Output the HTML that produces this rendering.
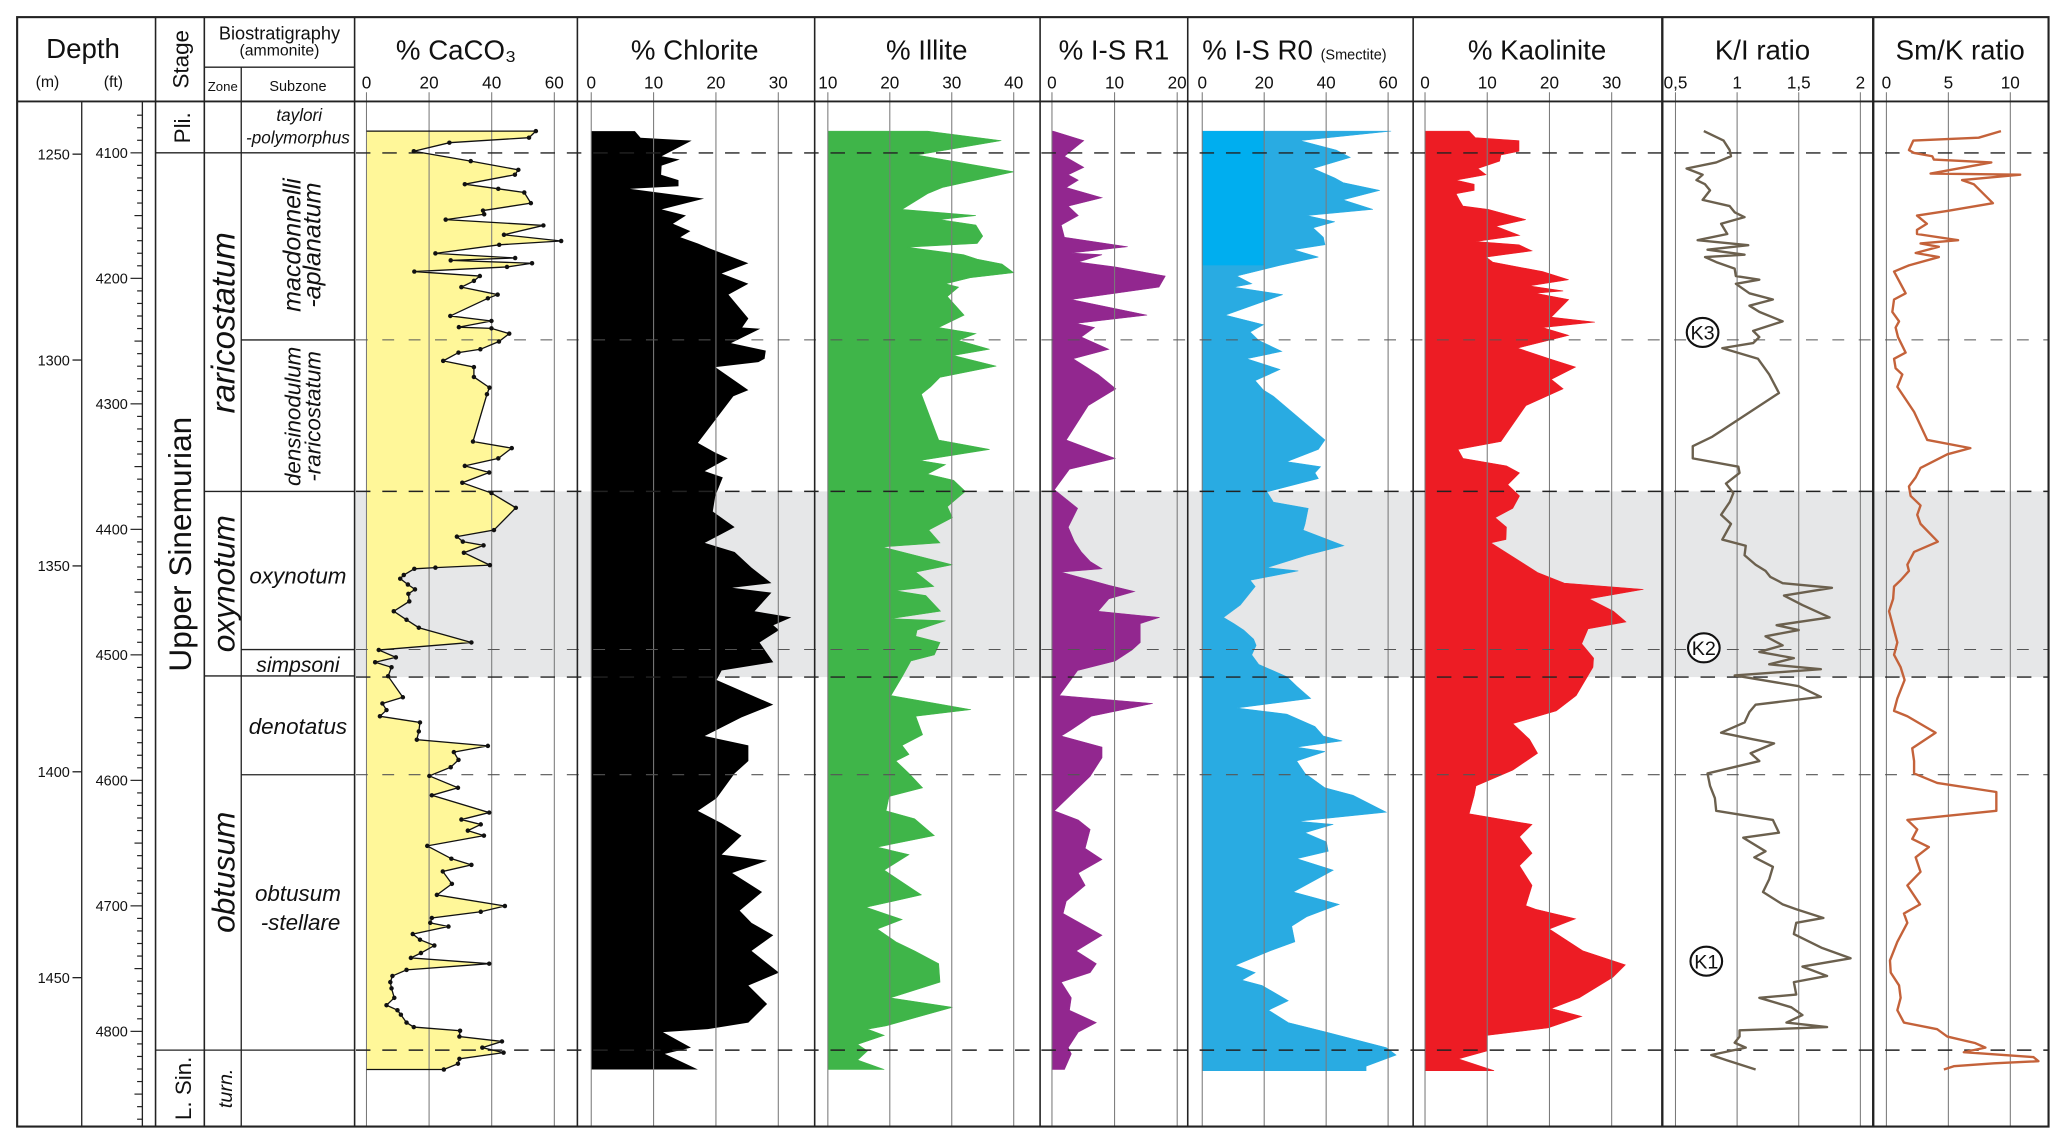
<!DOCTYPE html>
<html><head><meta charset="utf-8"><style>
html,body{margin:0;padding:0;background:#fff}
svg{display:block}
text{font-family:"Liberation Sans",sans-serif;fill:#111}
</style></head><body>
<svg id="chart" xmlns="http://www.w3.org/2000/svg" width="2067" height="1145" viewBox="0 0 1568 869" preserveAspectRatio="none">
<g id="bg"></g>
<g id="fills"></g>
<g id="grid"></g>
<g id="dashes"></g>
<g id="lines"></g>
<g id="frame" stroke="#222" fill="none">
 <rect x="13" y="13" width="1541" height="842" stroke-width="1.6"/>
 <line x1="13" y1="77" x2="1554" y2="77" stroke-width="1.4"/>
 <line x1="62" y1="77" x2="62" y2="855" stroke-width="1"/>
 <line x1="108" y1="77" x2="108" y2="855" stroke-width="1"/>
 <line x1="118" y1="13" x2="118" y2="855" stroke-width="1.2"/>
 <line x1="155" y1="13" x2="155" y2="855" stroke-width="1.2"/>
 <line x1="183" y1="51" x2="183" y2="855" stroke-width="1"/>
 <line x1="155" y1="51" x2="269" y2="51" stroke-width="1"/>
 <line x1="269" y1="13" x2="269" y2="855" stroke-width="1.2"/>
 <line x1="438" y1="13" x2="438" y2="855" stroke-width="1.2"/>
 <line x1="618" y1="13" x2="618" y2="855" stroke-width="1.2"/>
 <line x1="789" y1="13" x2="789" y2="855" stroke-width="1.2"/>
 <line x1="901" y1="13" x2="901" y2="855" stroke-width="1.2"/>
 <line x1="1072" y1="13" x2="1072" y2="855" stroke-width="1.2"/>
 <line x1="1261" y1="13" x2="1261" y2="855" stroke-width="1.8"/>
 <line x1="1421" y1="13" x2="1421" y2="855" stroke-width="1.8"/>
 <line x1="118" y1="116" x2="269" y2="116" stroke-width="1"/>
 <line x1="118" y1="797" x2="269" y2="797" stroke-width="1"/>
 <line x1="155" y1="373" x2="269" y2="373" stroke-width="1"/>
 <line x1="155" y1="513" x2="269" y2="513" stroke-width="1"/>
 <line x1="183" y1="258" x2="269" y2="258" stroke-width="1"/>
 <line x1="183" y1="493" x2="269" y2="493" stroke-width="1"/>
 <line x1="183" y1="588" x2="269" y2="588" stroke-width="1"/>
</g>
<g id="labels">
 <text x="63" y="44" font-size="21" text-anchor="middle">Depth</text>
 <text x="36" y="66" font-size="12" text-anchor="middle">(m)</text>
 <text x="86" y="66" font-size="12" text-anchor="middle">(ft)</text>
 <text transform="translate(143,45) rotate(-90)" font-size="17" text-anchor="middle">Stage</text>
 <text x="212" y="30" font-size="14" text-anchor="middle" textLength="92" lengthAdjust="spacingAndGlyphs">Biostratigraphy</text>
 <text x="212" y="42" font-size="12" text-anchor="middle">(ammonite)</text>
 <text x="169" y="69" font-size="10" text-anchor="middle">Zone</text>
 <text x="226" y="69" font-size="11" text-anchor="middle">Subzone</text>
 <text x="346" y="45" font-size="21" text-anchor="middle">% CaCO₃</text>
 <text x="527" y="45" font-size="21" text-anchor="middle">% Chlorite</text>
 <text x="703" y="45" font-size="21" text-anchor="middle">% Illite</text>
 <text x="845" y="45" font-size="21" text-anchor="middle">% I-S R1</text>
 <text x="912" y="45" font-size="21">% I-S R0 <tspan font-size="11">(Smectite)</tspan></text>
 <text x="1166" y="45" font-size="21" text-anchor="middle">% Kaolinite</text>
 <text x="1337" y="45" font-size="21" text-anchor="middle">K/I ratio</text>
 <text x="1487" y="45" font-size="21" text-anchor="middle">Sm/K ratio</text>
 <text transform="translate(144,97) rotate(-90)" font-size="17" text-anchor="middle">Pli.</text>
 <text transform="translate(145,413) rotate(-90)" font-size="24" text-anchor="middle">Upper Sinemurian</text>
 <text transform="translate(145,826) rotate(-90)" font-size="17" text-anchor="middle">L. Sin.</text>
 <text transform="translate(178,245) rotate(-90)" font-size="25" font-style="italic" text-anchor="middle">raricostatum</text>
 <text transform="translate(178,443) rotate(-90)" font-size="24" font-style="italic" text-anchor="middle">oxynotum</text>
 <text transform="translate(178,662) rotate(-90)" font-size="24" font-style="italic" text-anchor="middle">obtusum</text>
 <text transform="translate(176,826) rotate(-90)" font-size="15" font-style="italic" text-anchor="middle">turn.</text>
 <text x="227" y="92" font-size="13" font-style="italic" text-anchor="middle">taylori</text>
 <text x="226" y="109" font-size="13" font-style="italic" text-anchor="middle">-polymorphus</text>
 <text transform="translate(228,186) rotate(-90)" font-size="19" font-style="italic" text-anchor="middle">macdonnelli</text>
 <text transform="translate(243,186) rotate(-90)" font-size="19" font-style="italic" text-anchor="middle">-aplanatum</text>
 <text transform="translate(228,316) rotate(-90)" font-size="17" font-style="italic" text-anchor="middle">densinodulum</text>
 <text transform="translate(243,316) rotate(-90)" font-size="17" font-style="italic" text-anchor="middle">-raricostatum</text>
 <text x="226" y="443" font-size="17" font-style="italic" text-anchor="middle">oxynotum</text>
 <text x="226" y="510" font-size="16" font-style="italic" text-anchor="middle">simpsoni</text>
 <text x="226" y="557" font-size="17" font-style="italic" text-anchor="middle">denotatus</text>
 <text x="226" y="684" font-size="17" font-style="italic" text-anchor="middle">obtusum</text>
 <text x="228" y="706" font-size="17" font-style="italic" text-anchor="middle">-stellare</text>
</g>
<g id="ruler"></g>
<g id="kmarks"></g>
</svg>
<script>
// ---- data (depth in metres, values in column units) ----
const mDepthTicks = [1250, 1300, 1350, 1400, 1450];
const ftDepthTicks = [4100, 4200, 4300, 4400, 4500, 4600, 4700, 4800];
const heavyBoundaries = [1249.7, 1331.9, 1377.0, 1467.6];
const lightBoundaries = [1295.1, 1370.3, 1400.7];
const greyBand = [1331.9, 1377.0];
const kEventNames = ["K3", "K2", "K1"];
const kEventDepths = [1293.3, 1369.9, 1446.0];
const kEventRatio = [0.72, 0.73, 0.75];

const caco3Ticks = [0, 20, 40, 60];
const chloriteTicks = [0, 10, 20, 30];
const illiteTicks = [10, 20, 30, 40];
const isr1Ticks = [0, 10, 20];
const isr0Ticks = [0, 20, 40, 60];
const kaolTicks = [0, 10, 20, 30];
const kiTicks = [0.5, 1, 1.5, 2];
const kiTickLabels = ["0,5", "1", "1,5", "2"];
const smkTicks = [0, 5, 10];

const caco3Depth = [1244.4,1246.0,1247.2,1249.3,1251.7,1253.8,1255.0,1257.3,1258.4,1259.3,1261.9,1263.7,1264.6,1265.9,1267.3,1269.6,1271.1,1272.0,1274.1,1275.2,1275.8,1276.5,1277.4,1278.5,1279.6,1280.8,1282.3,1284.1,1285.0,1289.3,1290.5,1292.0,1292.3,1293.6,1295.5,1297.4,1298.2,1300.2,1301.7,1304.1,1306.7,1308.3,1319.8,1321.4,1323.9,1325.7,1327.3,1329.8,1332.3,1335.9,1341.3,1342.9,1344.1,1345.0,1346.8,1349.8,1350.4,1350.7,1352.2,1353.1,1354.5,1355.7,1356.8,1358.6,1361.0,1363.1,1365.0,1368.6,1370.4,1372.2,1373.4,1374.6,1376.8,1381.9,1383.4,1385.0,1386.5,1388.0,1390.2,1392.2,1393.7,1395.2,1397.1,1398.9,1401.0,1403.9,1405.7,1409.9,1411.6,1412.8,1414.3,1415.5,1418.0,1421.1,1422.6,1424.2,1427.2,1429.9,1432.6,1434.0,1435.5,1436.7,1437.6,1439.4,1440.8,1442.2,1444.0,1445.2,1446.6,1448.1,1449.6,1451.1,1452.6,1454.9,1456.7,1457.9,1459.0,1460.9,1462.0,1462.9,1464.3,1465.5,1467.0,1468.2,1469.7,1470.9,1472.3];
const caco3Val = [54.1,51.9,26.5,15.1,33.3,48.5,47.4,31.4,42.1,50.4,52.5,37.2,37.6,25.3,56.5,43.9,62.2,42.4,22.0,47.5,26.9,52.9,44.9,15.3,36.2,34.3,30.3,41.9,38.8,26.8,39.9,29.5,39.9,45.6,42.3,36.4,29.4,24.5,34.3,34.3,39.3,38.5,34.0,46.4,42.1,31.4,39.2,30.6,39.9,47.7,40.7,28.9,30.8,37.4,31.1,39.4,22.0,15.3,11.9,10.8,13.2,15.5,13.4,13.7,8.7,12.8,16.7,33.5,3.9,9.4,2.8,8.0,6.9,11.6,5.1,6.4,4.3,17.1,16.7,16.1,38.8,27.9,29.4,26.9,20.1,29.2,20.9,39.2,30.3,36.5,32.4,37.5,19.4,27.1,33.5,24.4,27.3,22.5,44.2,36.5,20.9,20.4,26.2,14.8,17.1,21.7,17.4,14.2,39.2,12.8,8.3,7.6,8.0,8.9,6.4,9.9,11.0,12.8,15.1,29.9,29.7,43.3,37.0,43.8,29.7,29.2,24.7];

const chloriteDepth = [1244.4,1246.0,1246.7,1250.5,1251.3,1252.8,1255.0,1256.3,1257.8,1258.4,1260.8,1263.4,1264.9,1266.9,1268.7,1270.2,1271.7,1272.9,1276.5,1279.0,1281.5,1284.1,1289.9,1292.1,1292.4,1295.9,1297.7,1299.7,1300.5,1301.7,1307.3,1308.8,1320.1,1322.4,1323.9,1327.0,1328.5,1333.0,1336.8,1340.6,1344.4,1346.6,1350.4,1354.2,1355.3,1356.5,1361.0,1362.5,1364.4,1365.6,1368.6,1373.4,1375.4,1377.7,1383.7,1386.8,1391.3,1393.6,1397.4,1400.4,1406.4,1409.5,1412.5,1415.5,1420.1,1421.6,1424.6,1429.2,1433.7,1436.7,1439.7,1443.5,1448.8,1451.9,1456.4,1460.9,1462.5,1463.2,1467.0,1468.5,1472.3];
const chloriteVal = [7.0,7.9,16.1,11.3,14.2,11.3,11.2,14.0,14.0,6.2,18.1,11.3,15.2,13.1,15.9,14.3,17.1,19.0,25.2,20.9,25.2,22.0,25.2,24.2,27.1,22.4,28.0,27.8,26.8,19.9,25.2,22.8,17.1,19.8,21.9,18.2,21.1,19.9,19.5,23.0,18.2,23.0,25.7,28.9,22.6,28.9,26.2,32.1,29.2,30.1,27.0,29.2,20.9,20.1,29.2,24.1,18.2,25.2,25.2,23.0,20.1,17.1,20.9,24.1,20.9,28.2,22.6,27.4,23.8,25.7,29.2,25.7,30.1,25.2,28.2,25.2,18.7,11.5,16.0,11.8,17.1];

const illiteDepth = [1244.4,1246.7,1250.2,1254.3,1258.1,1259.6,1263.4,1264.9,1265.9,1267.2,1269.9,1271.7,1272.6,1274.4,1275.5,1276.7,1278.8,1280.0,1281.5,1282.3,1284.6,1289.1,1292.1,1293.6,1295.2,1297.4,1298.9,1301.5,1304.2,1306.5,1308.3,1319.4,1321.7,1324.4,1325.4,1327.7,1329.2,1331.9,1335.6,1338.3,1341.3,1344.4,1345.4,1349.7,1351.5,1355.0,1356.0,1357.2,1361.0,1362.8,1363.3,1365.6,1367.1,1368.6,1371.6,1373.1,1376.9,1381.5,1384.9,1386.5,1391.0,1393.6,1395.8,1397.4,1400.4,1403.9,1406.0,1409.5,1411.4,1415.5,1418.3,1420.1,1423.9,1429.9,1432.9,1435.9,1438.2,1441.3,1443.5,1446.6,1451.1,1454.9,1457.2,1461.7,1462.5,1464.0,1466.2,1467.8,1470.0,1472.3];
const illiteVal = [26.1,38.0,24.4,40.0,28.5,26.1,22.0,33.9,28.1,33.9,35.0,34.1,22.8,31.9,34.1,38.1,40.0,33.0,29.0,31.1,29.3,32.0,27.9,33.9,31.1,36.1,30.3,37.2,28.1,26.6,25.1,27.9,36.1,24.9,29.0,26.1,30.3,32.2,29.3,30.1,26.3,28.1,18.8,30.1,24.2,27.1,20.9,25.8,28.2,20.2,29.0,24.4,24.2,28.1,27.2,23.4,22.0,20.2,33.1,24.2,25.3,22.0,23.1,21.0,23.1,25.3,19.9,19.4,24.0,27.2,18.0,23.1,19.1,25.1,16.2,22.0,18.0,21.0,24.0,27.9,28.1,20.1,30.1,19.4,16.4,19.1,14.8,16.4,14.8,19.1];

const isr1Depth = [1244.4,1246.7,1250.5,1253.2,1255.0,1256.3,1258.1,1260.6,1262.6,1264.9,1267.2,1270.2,1272.5,1274.0,1274.4,1276.2,1277.4,1279.6,1282.3,1285.3,1289.1,1291.1,1292.1,1294.4,1297.4,1299.7,1303.5,1307.0,1311.1,1319.4,1323.9,1326.5,1331.5,1336.0,1340.6,1344.1,1346.6,1348.9,1350.7,1351.5,1354.7,1356.2,1358.0,1361.0,1362.5,1364.0,1366.3,1368.6,1370.4,1373.1,1375.4,1381.5,1383.4,1386.5,1389.8,1391.3,1394.0,1396.6,1401.1,1409.5,1411.7,1414.0,1418.6,1421.3,1424.6,1427.6,1431.4,1434.4,1439.7,1443.5,1446.6,1448.8,1451.1,1454.9,1457.9,1460.9,1463.2,1467.0,1468.5,1472.3];
const isr1Val = [0.2,5.1,2.0,5.1,2.6,4.2,2.3,8.0,2.6,4.2,1.5,2.0,12.1,3.1,8.0,4.2,10.1,18.1,17.1,3.1,15.2,3.9,6.8,4.7,9.1,3.4,7.4,10.2,5.8,2.3,10.1,2.8,0.4,4.1,2.6,3.6,4.7,6.1,8.0,1.5,9.1,13.2,9.1,7.4,17.2,14.1,14.1,14.1,12.8,10.1,4.1,1.2,16.1,6.3,3.1,1.5,8.0,8.0,6.1,0.4,4.2,6.1,5.3,8.0,4.2,5.3,2.3,1.8,8.0,3.9,7.1,6.1,1.5,3.1,2.8,7.1,4.2,2.6,3.1,2.0];

const isr0Depth = [1244.4,1246.7,1249.0,1250.8,1253.5,1255.8,1256.9,1258.8,1261.1,1263.4,1264.9,1266.4,1267.9,1270.2,1272.0,1273.2,1275.0,1277.0,1279.6,1281.5,1282.3,1284.1,1289.1,1291.4,1293.2,1295.2,1297.9,1299.7,1302.3,1305.0,1307.3,1308.8,1319.4,1321.7,1324.7,1325.9,1327.4,1328.8,1332.0,1334.5,1336.0,1339.8,1341.3,1345.1,1347.4,1350.4,1351.2,1353.5,1355.0,1356.5,1359.5,1362.5,1364.0,1365.6,1367.8,1369.3,1371.6,1373.9,1376.9,1379.2,1382.2,1384.5,1386.0,1389.0,1391.3,1392.5,1394.0,1395.1,1397.4,1400.4,1403.9,1405.7,1409.8,1412.0,1412.8,1414.8,1417.0,1419.3,1421.1,1423.9,1429.2,1432.2,1435.2,1437.5,1441.3,1443.5,1447.0,1448.8,1450.6,1451.9,1455.6,1457.9,1460.9,1463.2,1467.0,1468.8,1471.5,1472.6];
const isr0Val = [61.0,31.6,43.3,47.8,35.8,42.8,45.5,57.3,45.5,55.1,33.7,42.8,35.8,39.1,39.6,29.4,37.5,25.1,11.2,16.0,10.2,26.0,7.5,19.8,15.5,18.2,25.7,14.4,25.1,17.1,19.8,23.0,39.6,37.5,27.3,38.2,36.4,37.5,20.9,23.0,34.2,33.2,32.6,45.7,33.7,20.9,31.0,15.5,17.1,15.5,12.3,6.9,10.2,13.4,16.6,17.4,16.0,18.2,27.3,30.5,35.0,11.2,27.3,36.4,39.1,45.2,30.5,39.6,30.5,33.2,39.6,48.7,59.4,31.0,42.3,33.2,40.1,40.7,30.5,42.3,29.4,44.2,33.7,28.9,29.9,21.9,10.7,17.1,12.8,19.3,27.8,21.4,27.8,40.1,59.4,62.6,52.9,52.9];

const kaolDepth = [1244.4,1246.0,1246.7,1249.3,1250.2,1251.7,1253.5,1255.0,1256.3,1257.3,1258.8,1259.6,1261.1,1262.6,1263.4,1265.9,1267.5,1269.7,1271.2,1272.0,1273.5,1275.0,1276.2,1278.5,1280.5,1282.0,1283.2,1283.8,1285.3,1289.6,1290.8,1292.1,1294.0,1297.1,1299.7,1301.7,1304.7,1307.0,1311.1,1319.8,1321.7,1323.9,1325.7,1327.4,1330.3,1333.0,1336.0,1338.3,1340.6,1343.6,1344.4,1351.6,1354.2,1355.7,1358.0,1361.0,1363.6,1365.3,1368.9,1372.4,1374.6,1381.5,1385.2,1388.3,1392.1,1395.5,1399.6,1403.4,1405.7,1410.2,1412.8,1415.8,1419.8,1422.8,1427.6,1432.5,1433.4,1435.7,1438.2,1443.5,1446.9,1449.9,1454.9,1457.5,1459.4,1462.2,1464.0,1467.8,1469.7,1472.6];
const kaolVal = [7.1,8.1,15.1,15.1,12.2,12.0,8.5,9.8,5.0,7.9,7.9,5.0,5.5,6.1,10.2,16.2,11.4,15.2,8.2,15.1,17.2,9.8,10.9,18.9,23.1,16.8,22.2,17.8,23.1,20.3,27.3,18.9,23.1,14.9,20.0,24.2,20.3,22.2,16.2,12.2,5.3,6.1,13.1,15.2,13.3,15.2,14.1,11.3,13.1,13.0,10.6,18.1,22.4,35.1,26.4,30.3,32.3,26.2,25.2,27.1,27.0,24.3,21.1,14.1,16.8,18.1,14.1,8.2,7.9,7.1,17.2,15.2,17.2,15.2,17.2,16.2,17.8,24.2,20.0,25.4,32.2,30.2,24.8,20.3,25.2,19.8,10.0,10.0,5.4,11.1];

const kiDepth = [1244.4,1246.7,1249.0,1250.5,1252.0,1253.5,1255.0,1256.3,1257.3,1258.8,1261.1,1262.6,1264.1,1265.3,1266.9,1269.4,1270.9,1272.1,1273.2,1274.4,1275.0,1276.2,1277.8,1279.6,1280.5,1281.5,1283.8,1285.3,1286.8,1288.3,1290.6,1292.9,1294.4,1295.9,1297.1,1299.7,1303.5,1308.0,1318.6,1320.9,1323.9,1325.9,1327.4,1330.0,1332.3,1334.5,1337.6,1339.8,1343.6,1345.1,1347.4,1349.7,1351.2,1352.7,1354.2,1355.3,1357.2,1359.5,1362.5,1364.4,1365.6,1367.1,1369.3,1370.9,1372.4,1373.9,1375.1,1376.6,1379.2,1381.8,1383.7,1385.5,1388.0,1390.5,1392.1,1393.1,1395.5,1397.4,1400.4,1403.4,1406.4,1409.5,1411.7,1414.8,1416.0,1419.3,1420.8,1423.1,1426.1,1429.2,1432.2,1433.4,1435.5,1436.7,1439.4,1442.8,1445.3,1447.3,1449.6,1451.1,1454.1,1454.9,1457.2,1459.1,1460.9,1462.0,1462.8,1464.3,1465.8,1467.0,1468.8,1470.0,1472.3];
const kiVal = [0.73,0.89,0.94,0.95,0.83,0.59,0.72,0.67,0.74,0.78,0.72,0.94,0.98,1.06,0.87,0.92,0.68,1.09,0.76,1.06,0.74,0.83,0.98,0.99,1.18,0.99,1.10,1.29,1.10,1.18,1.37,1.13,1.18,1.13,0.88,1.17,1.26,1.34,0.80,0.64,0.64,1.01,1.02,0.91,0.97,0.94,0.87,0.95,0.88,1.07,1.06,1.15,1.23,1.27,1.37,1.77,1.38,1.53,1.75,1.32,1.50,1.23,1.37,1.18,1.46,1.26,1.68,0.98,1.50,1.68,1.15,1.10,1.06,0.87,1.13,1.30,1.11,1.18,0.76,0.78,0.82,0.83,1.29,1.34,1.05,1.23,1.14,1.29,1.26,1.21,1.37,1.48,1.70,1.48,1.46,1.69,1.92,1.53,1.73,1.46,1.48,1.18,1.44,1.53,1.40,1.73,1.02,1.02,0.98,1.07,0.79,0.91,1.15];

const smkDepth = [1244.4,1246.0,1246.7,1249.0,1249.7,1250.5,1251.3,1252.0,1254.7,1255.0,1256.3,1257.3,1261.9,1263.8,1264.9,1266.9,1268.4,1269.4,1270.9,1271.7,1272.5,1274.0,1275.0,1277.0,1278.5,1280.8,1283.8,1285.3,1288.3,1290.6,1292.1,1294.4,1298.2,1299.7,1302.0,1303.5,1306.5,1312.6,1319.4,1321.4,1322.9,1326.2,1328.5,1330.7,1333.0,1335.3,1337.6,1339.8,1344.1,1346.6,1349.7,1351.2,1353.5,1355.0,1358.0,1361.0,1365.6,1368.6,1371.6,1374.6,1377.7,1382.2,1385.2,1386.5,1390.5,1394.3,1397.4,1400.4,1402.7,1404.9,1409.5,1410.7,1411.7,1414.0,1416.3,1418.3,1420.8,1424.3,1427.6,1432.2,1434.4,1436.7,1439.0,1441.3,1445.8,1448.8,1451.9,1454.9,1457.9,1460.9,1462.5,1464.3,1465.9,1467.0,1468.1,1469.3,1470.3,1470.8,1471.5,1472.3];
const smkVal = [9.24,7.45,2.17,1.82,2.23,3.70,3.83,8.47,3.56,10.8,6.11,7.05,8.60,4.91,2.47,3.27,2.47,2.47,5.79,2.76,4.23,2.36,4.23,1.82,0.62,1.02,1.55,0.62,0.48,1.02,0.75,0.94,1.55,0.62,0.75,1.29,0.88,2.23,3.30,6.78,4.91,2.76,2.36,1.82,1.96,2.76,2.49,2.76,4.15,2.23,1.69,1.82,1.15,0.62,0.54,0.21,0.62,0.88,0.62,1.15,1.47,0.88,0.62,1.69,3.97,2.09,2.23,2.23,4.10,8.87,8.87,4.91,1.69,2.49,2.09,3.43,2.36,2.76,1.69,2.71,1.42,1.69,1.29,0.88,0.29,0.35,1.02,1.15,0.88,1.42,4.10,4.91,7.18,7.99,6.24,11.87,12.27,8.68,5.44,4.64];

// ---- scales ----
const NS = "http://www.w3.org/2000/svg";
function yOf(m){ return 117 + (m - 1250) * 3.125; }
function ftToY(ft){ return yOf(ft * 0.3048); }
const xCaco3 = v => 278 + v * 2.375;
const xChlor = v => 448.5 + v * 4.73;
const xIllite = v => 628 + (v - 10) * 4.7;
const xIsr1 = v => 798 + v * 4.75;
const xIsr0 = v => 912 + v * 2.35;
const xKaol = v => 1081 + v * 4.72;
const xKi = v => 1271 + (v - 0.5) * 93.5;
const xSmk = v => 1431 + v * 9.4;

function mk(tag, attrs, parent){
  const el = document.createElementNS(NS, tag);
  for (const k in attrs) el.setAttribute(k, attrs[k]);
  parent.appendChild(el);
  return el;
}
const gBg = document.getElementById('bg');
const gFill = document.getElementById('fills');
const gGrid = document.getElementById('grid');
const gDash = document.getElementById('dashes');
const gLines = document.getElementById('lines');
const gRuler = document.getElementById('ruler');
const gK = document.getElementById('kmarks');

{
  const el = mk('rect', {x: 270, y: yOf(greyBand[0]), width: 1284, height: yOf(greyBand[1]) - yOf(greyBand[0]), fill: '#e6e7e8'}, gBg);
  
  
}

function area(depth, vals, xf, base, fill, name, stroke){
  let pts = [[xf(base), yOf(depth[0])]];
  for (let i = 0; i < depth.length; i++) pts.push([xf(vals[i]), yOf(depth[i])]);
  pts.push([xf(base), yOf(depth[depth.length - 1])]);
  const el = mk('polygon', {points: pts.map(p => p[0].toFixed(1) + ',' + p[1].toFixed(1)).join(' '), fill: fill, stroke: stroke || 'none', 'stroke-width': 0.4}, gFill);
  
  
}
area(caco3Depth, caco3Val, xCaco3, 0, '#fff799', 'caco3-area');
area(chloriteDepth, chloriteVal, xChlor, 0, '#000000', 'chlorite-area');
area(illiteDepth, illiteVal, xIllite, 10, '#3fb549', 'illite-area', '#3fb549');
area(isr1Depth, isr1Val, xIsr1, 0, '#92278f', 'isr1-area', '#92278f');
area(isr0Depth, isr0Val, xIsr0, 0, '#29abe2', 'isr0-area', '#29abe2');
{
  const el = mk('rect', {x: xIsr0(0), y: yOf(isr0Depth[0]), width: xIsr0(20) - xIsr0(0), height: yOf(1277.0) - yOf(isr0Depth[0]), fill: '#00aeef'}, gFill);
  
  
}
area(kaolDepth, kaolVal, xKaol, 0, '#ed1c24', 'kaolinite-area', '#ed1c24');

function ticks(arr, labels, xf, name){
  arr.forEach((t, i) => {
    const x = xf(t);
    const ln = mk('line', {x1: x, y1: 70, x2: x, y2: 855, stroke: '#7a7a7a', 'stroke-width': 0.8}, gGrid);
    
    
    const tx = mk('text', {x: x, y: 67, 'font-size': 13, 'text-anchor': 'middle'}, gGrid);
    tx.textContent = labels[i];
    
    
  });
}
ticks(caco3Ticks, caco3Ticks.map(String), xCaco3, 'caco3');
ticks(chloriteTicks, chloriteTicks.map(String), xChlor, 'chlorite');
ticks(illiteTicks, illiteTicks.map(String), xIllite, 'illite');
ticks(isr1Ticks, isr1Ticks.map(String), xIsr1, 'isr1');
ticks(isr0Ticks, isr0Ticks.map(String), xIsr0, 'isr0');
ticks(kaolTicks, kaolTicks.map(String), xKaol, 'kaolinite');
ticks(kiTicks, kiTickLabels, xKi, 'ki-ratio');
ticks(smkTicks, smkTicks.map(String), xSmk, 'smk-ratio');

heavyBoundaries.forEach((d, i) => {
  const el = mk('line', {x1: 270, y1: yOf(d), x2: 1554, y2: yOf(d), stroke: '#222', 'stroke-width': 1.1, 'stroke-dasharray': '11 9'}, gDash);
  
  
});
lightBoundaries.forEach((d, i) => {
  const el = mk('line', {x1: 270, y1: yOf(d), x2: 1554, y2: yOf(d), stroke: '#555', 'stroke-width': 0.8, 'stroke-dasharray': '9 11'}, gDash);
  
  
});

{
  let pts = [[xCaco3(0), yOf(caco3Depth[0])]];
  for (let i = 0; i < caco3Depth.length; i++) pts.push([xCaco3(caco3Val[i]), yOf(caco3Depth[i])]);
  pts.push([xCaco3(0), yOf(caco3Depth[caco3Depth.length - 1])]);
  const el = mk('polyline', {points: pts.map(p => p[0].toFixed(1) + ',' + p[1].toFixed(1)).join(' '), fill: 'none', stroke: '#111', 'stroke-width': 1}, gLines);
  
  
  for (let i = 0; i < caco3Depth.length; i++) {
    const c = mk('circle', {cx: xCaco3(caco3Val[i]).toFixed(1), cy: yOf(caco3Depth[i]).toFixed(1), r: 1.7, fill: '#111'}, gLines);
    
    
  }
}
function line(depth, vals, xf, color, name){
  const pts = depth.map((d, i) => xf(vals[i]).toFixed(1) + ',' + yOf(d).toFixed(1)).join(' ');
  const el = mk('polyline', {points: pts, fill: 'none', stroke: color, 'stroke-width': 1.8, 'stroke-linejoin': 'round'}, gLines);
  
  
}
line(kiDepth, kiVal, xKi, '#6b604e', 'ki-ratio-line');
line(smkDepth, smkVal, xSmk, '#c4623a', 'smk-ratio-line');

kEventNames.forEach((n, i) => {
  const cx = xKi(kEventRatio[i]), cy = yOf(kEventDepths[i]);
  const e = mk('ellipse', {cx: cx, cy: cy, rx: 12, ry: 11, fill: '#fff', stroke: '#111', 'stroke-width': 1.6}, gK);
  
  
  const t = mk('text', {x: cx, y: cy + 5.5, 'font-size': 15, 'text-anchor': 'middle'}, gK);
  t.textContent = n;
  
  
});

mDepthTicks.forEach(m => {
  const y = yOf(m);
  const l = mk('line', {x1: 55, y1: y, x2: 62, y2: y, stroke: '#222', 'stroke-width': 1}, gRuler);
  
  
  const t = mk('text', {x: 53, y: y + 4, 'font-size': 11, 'text-anchor': 'end'}, gRuler);
  t.textContent = m;
  
  
});
for (let ft = 4070; ft <= 4880; ft += 10) {
  const y = ftToY(ft);
  if (y < 86 || y > 852) continue;
  const major = ft % 100 === 0, half = ft % 50 === 0;
  const l = mk('line', {x1: major ? 99 : (half ? 102 : 104), y1: y, x2: 108, y2: y, stroke: '#222', 'stroke-width': 0.9}, gRuler);
  
  
}
ftDepthTicks.forEach(ft => {
  const t = mk('text', {x: 97, y: ftToY(ft) + 4, 'font-size': 11, 'text-anchor': 'end'}, gRuler);
  t.textContent = ft;
  
  
});
</script>
</body></html>
